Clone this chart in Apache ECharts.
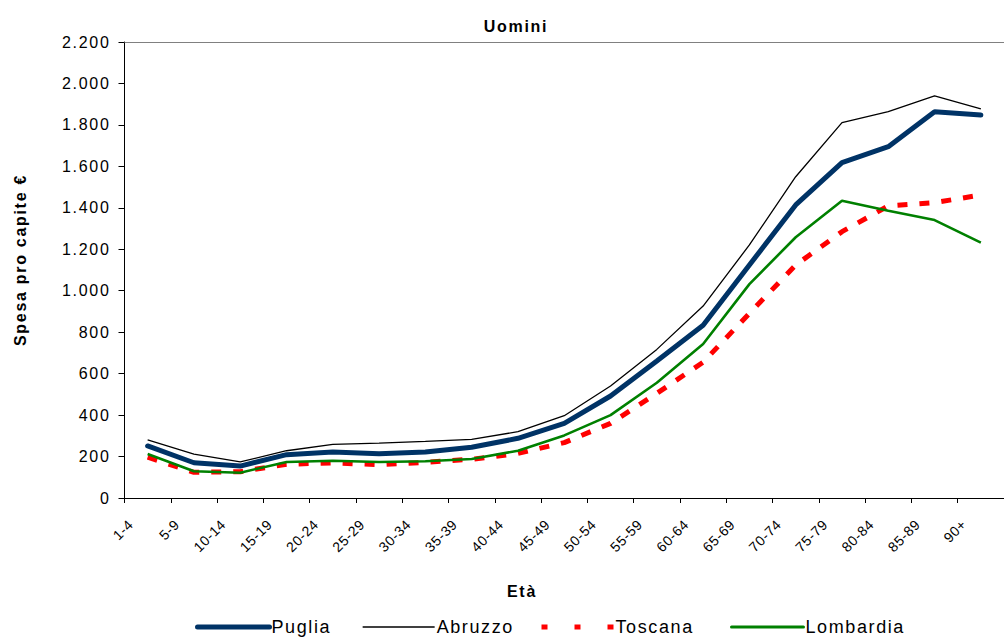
<!DOCTYPE html>
<html>
<head>
<meta charset="utf-8">
<script src="https://cdn.jsdelivr.net/npm/echarts@6/dist/echarts.min.js"></script>
<style>
html,body{margin:0;padding:0;background:#fff;}
#chart{width:1004px;height:640px;}
</style>
</head>
<body>
<div id="chart"></div>
<script>
var categories = ['1-4','5-9','10-14','15-19','20-24','25-29','30-34','35-39','40-44','45-49','50-54','55-59','60-64','65-69','70-74','75-79','80-84','85-89','90+'];
var seriesNames = ['Puglia','Abruzzo','Toscana','Lombardia'];
var puglia    = [251,170,154,209,222,214,222,245,288,360,492,661,833,1124,1414,1618,1695,1864,1848];
var abruzzo   = [280,212,174,228,259,265,273,283,320,397,540,717,926,1221,1550,1811,1864,1940,1877];
var toscana   = [197,124,127,163,169,161,172,187,215,267,360,505,655,891,1124,1285,1409,1425,1462];
var lombardia = [212,129,122,174,180,174,177,188,228,302,400,556,743,1032,1258,1434,1386,1341,1232];
var yTicks = [0,200,400,600,800,1000,1200,1400,1600,1800,2000,2200];

var FONT = '"Liberation Sans", Arial, sans-serif';
function fmt(v){ return String(v).replace(/\B(?=(\d{3})+(?!\d))/g, '.'); }

var legendLefts = [190, 357, 534, 725];
var legendLines = [
  {color: '#003366', width: 5, cap: 'round'},
  {color: '#000000', width: 1.3},
  {color: '#ff0000', width: 5, type: [6, 27]},
  {color: '#008000', width: 3, cap: 'round'}
];
var legends = seriesNames.map(function(n, i){
  return {
    left: legendLefts[i], top: 613,
    itemWidth: 72, itemHeight: 14, itemGap: 0,
    itemStyle: {opacity: 0},
    lineStyle: legendLines[i],
    textStyle: {fontFamily: FONT, fontSize: 18, color: '#000', padding: [0,0,0,-3]},
    data: [n]
  };
});

var chart = echarts.init(document.getElementById('chart'), null, {renderer:'svg'});
chart.setOption({
  animation: false,
  backgroundColor: '#ffffff',
  title: [
    {text: 'Uomini', left: 511, top: 13, textAlign: 'center',
     textStyle: {fontFamily: FONT, fontSize: 16, fontWeight: 'bold', color: '#000'}},
    {text: 'Età', left: 517, top: 578, textAlign: 'center',
     textStyle: {fontFamily: FONT, fontSize: 16, fontWeight: 'bold', color: '#000'}}
  ],
  grid: {left: 124.5, right: 0, top: 42, bottom: 142, containLabel: false},
  legend: legends,
  xAxis: [{
    type: 'category',
    data: categories,
    boundaryGap: true,
    axisLine: {lineStyle: {color: '#000', width: 1}},
    axisTick: {show: true, length: 5, lineStyle: {color: '#000'}},
    axisLabel: {rotate: 45, margin: 7, interval: 0, fontFamily: FONT, fontSize: 14, color: '#000', padding: [0,24,0,0]},
    splitLine: {show: false}
  }, {
    type: 'category',
    position: 'top',
    data: categories,
    axisLine: {lineStyle: {color: '#808080', width: 1}},
    axisTick: {show: false},
    axisLabel: {show: false}
  }],
  yAxis: {
    type: 'value',
    min: 0, max: 2200, interval: 200,
    name: 'Spesa pro capite €',
    nameLocation: 'middle',
    nameGap: 96,
    nameTextStyle: {fontFamily: FONT, fontSize: 16, fontWeight: 'bold', color: '#000', padding: [0,0,0,20]},
    axisLine: {show: true, lineStyle: {color: '#000', width: 1}},
    axisTick: {show: true, length: 6, lineStyle: {color: '#000'}},
    axisLabel: {margin: 14, fontFamily: FONT, fontSize: 16, color: '#000',
      formatter: function(v){ return yTicks.indexOf(v) >= 0 ? fmt(v) : ''; }},
    splitLine: {show: false}
  },
  series: [
    {name: 'Puglia', type: 'line', data: puglia, symbol: 'none', z: 4,
     lineStyle: {color: '#003366', width: 5, cap: 'round'}, itemStyle: {color: '#003366'}},
    {name: 'Abruzzo', type: 'line', data: abruzzo, symbol: 'none', z: 3,
     lineStyle: {color: '#000000', width: 1.3}, itemStyle: {color: '#000000'}},
    {name: 'Toscana', type: 'line', data: toscana, symbol: 'none', z: 2,
     lineStyle: {color: '#ff0000', width: 5, type: [10, 12]}, itemStyle: {color: '#ff0000'}},
    {name: 'Lombardia', type: 'line', data: lombardia, symbol: 'none', z: 5,
     lineStyle: {color: '#008000', width: 2.6}, itemStyle: {color: '#008000'}}
  ]
});

// Emulate the wide letter spacing of the original (Excel) text rendering
function spaceText(){
  var texts = document.querySelectorAll('#chart svg text');
  texts.forEach(function(t){
    var fs = parseFloat(getComputedStyle(t).fontSize);
    var ls = 0;
    if (fs >= 17.5) ls = 1.6;
    else if (fs >= 15.5) ls = 1.7;
    else if (fs >= 13.5) ls = 0.6;
    t.style.letterSpacing = ls + 'px';
  });
}
spaceText();
chart.on('finished', spaceText);
setTimeout(spaceText, 50);
</script>
</body>
</html>
